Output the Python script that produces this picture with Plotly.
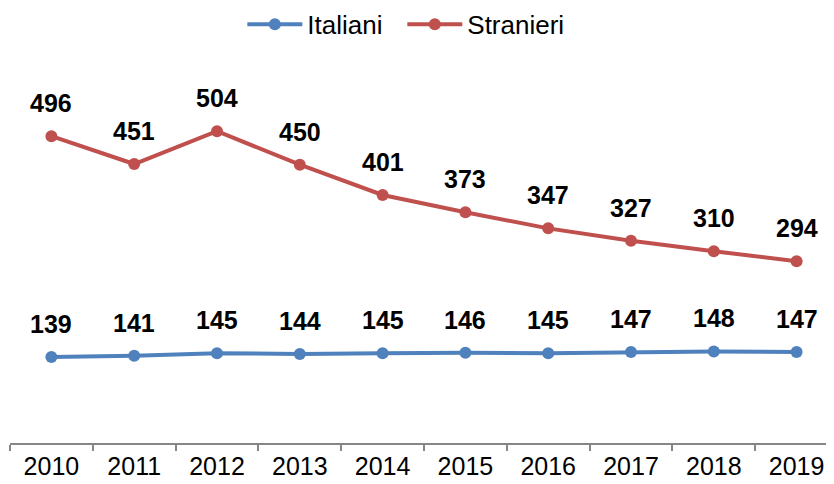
import plotly.graph_objects as go

years = ["2010", "2011", "2012", "2013", "2014", "2015", "2016", "2017", "2018", "2019"]
italiani = [139, 141, 145, 144, 145, 146, 145, 147, 148, 147]
stranieri = [496, 451, 504, 450, 401, 373, 347, 327, 310, 294]

blue = "#4F81BD"
red = "#C0504D"

fig = go.Figure()
for name, vals, col, lg in [("Italiani", italiani, blue, "legend"),
                            ("Stranieri", stranieri, red, "legend2")]:
    fig.add_trace(go.Scatter(
        x=years, y=vals, name=name, mode="lines+markers",
        line=dict(color=col, width=4),
        marker=dict(color=col, size=12),
        legend=lg,
    ))
    for i, v in enumerate(vals):
        fig.add_annotation(x=i, y=v, xref="x", yref="y", text=f"<b>{v}</b>", showarrow=False,
                           yshift=33, font=dict(family="Arial", size=25, color="black"))

leg_common = dict(orientation="h", xanchor="left", y=0.967, yanchor="middle",
                  font=dict(size=26), itemwidth=55, bgcolor="rgba(0,0,0,0)")

fig.update_layout(
    width=834, height=484,
    margin=dict(l=2, r=4, t=2, b=49, autoexpand=False),
    paper_bgcolor="white", plot_bgcolor="white",
    font=dict(family="Arial", size=25, color="black"),
    showlegend=True,
    legend=dict(x=0.2806, **leg_common),
    legend2=dict(x=0.4738, **leg_common),
    xaxis=dict(type="category", showline=True, linecolor="#868686", linewidth=2,
               ticks="outside", tickson="boundaries", ticklen=6, tickcolor="#868686",
               tickwidth=1.5, showgrid=False, tickfont=dict(size=25, color="black"),
               range=[-0.5, 9.5]),
    yaxis=dict(range=[0, 700], visible=False, showgrid=False, zeroline=False),
)

fig.write_html("out.html")
